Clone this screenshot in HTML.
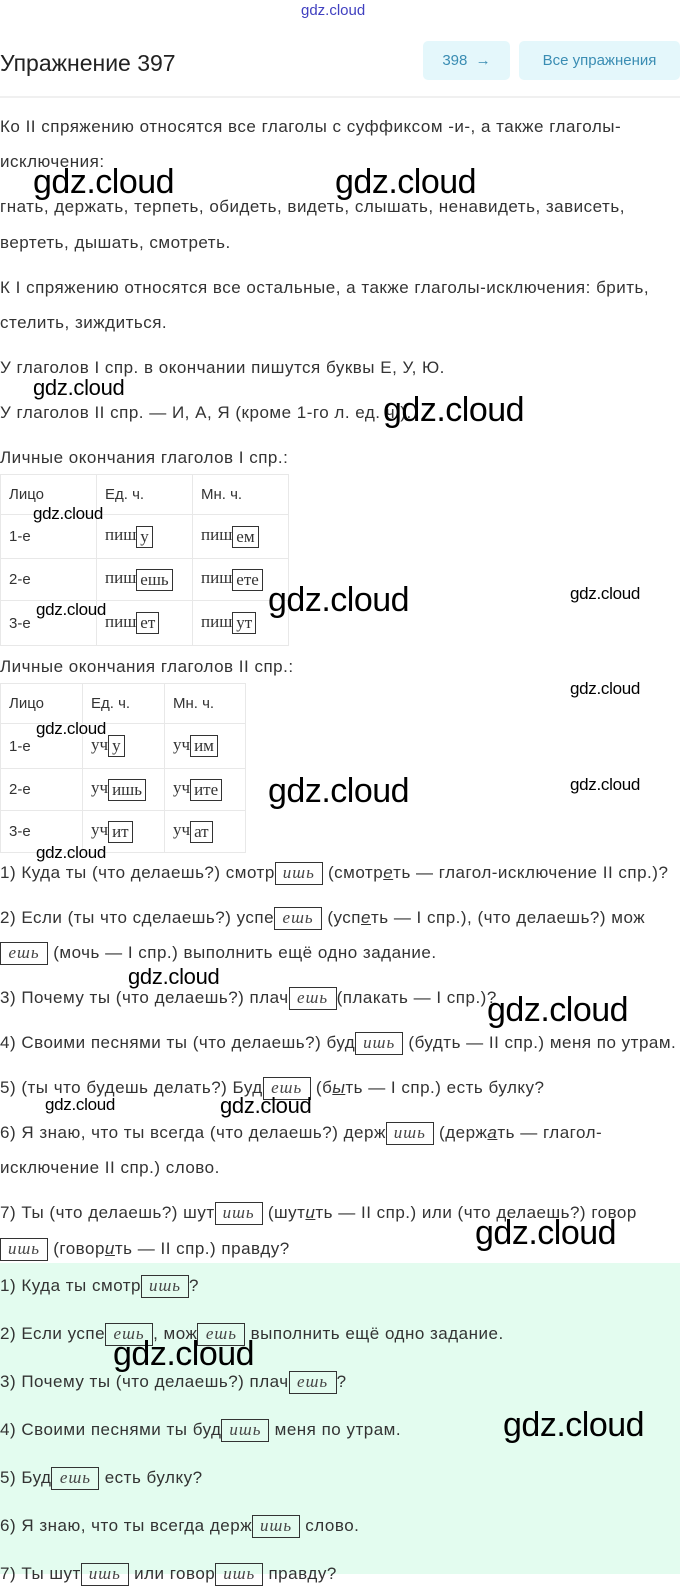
<!DOCTYPE html>
<html><head><meta charset="utf-8"><style>
*{margin:0;padding:0;box-sizing:border-box}
body{width:680px;height:1574px;position:relative;background:#fff;overflow:hidden;font-family:"Liberation Sans",sans-serif;color:#333;font-size:17px}
.l{position:absolute;left:0;white-space:nowrap;line-height:24px;height:24px;letter-spacing:0.5px;margin-top:2px}
.b{display:inline-block;border:1px solid #333;font-family:"Liberation Serif",serif;font-style:italic;font-size:17px;line-height:20px;height:23px;min-width:48px;text-align:center;padding:0 4px;vertical-align:middle;color:#444;letter-spacing:1px}
.t{display:inline-block;border:1px solid #333;font-family:"Liberation Serif",serif;font-size:17px;line-height:19px;height:22px;padding:0 3px;vertical-align:middle;color:#333}
.s{font-family:"Liberation Serif",serif;font-size:17px}
.w{position:absolute;color:#000;font-family:"Liberation Sans",sans-serif;white-space:nowrap;line-height:1}
.W{font-size:34px;letter-spacing:-0.5px}
.m{font-size:17px;letter-spacing:-0.3px}
table{position:absolute;left:0;border-collapse:collapse;font-size:15px}
td{border:1px solid #e8e8e8;padding:0 0 0 8px;vertical-align:middle}
.green{position:absolute;left:0;top:1263px;width:680px;height:311px;background:#e3fcef}
u{text-decoration:underline}
</style></head><body>
<div class="w" style="left:301px;top:3px;font-size:15px;color:#4040c0">gdz.cloud</div>
<div class="l" style="top:47px;font-size:23px;color:#222;height:28px;line-height:28px;letter-spacing:0">Упражнение 397</div>
<div style="position:absolute;left:423px;top:41px;width:87px;height:39px;background:#e4f7fb;border-radius:5px;color:#3a8db3;font-size:15px;line-height:39px;text-align:center">398 &nbsp;→</div>
<div style="position:absolute;left:519px;top:41px;width:161px;height:39px;background:#e4f7fb;border-radius:5px;color:#3a8db3;font-size:15px;line-height:39px;text-align:center">Все упражнения</div>
<div style="position:absolute;left:0;top:96px;width:680px;height:2px;background:#f0f0f0"></div>

<div class="l" style="top:113px">Ко II спряжению относятся все глаголы с суффиксом -и-, а также глаголы-</div>
<div class="l" style="top:148px">исключения:</div>
<div class="l" style="top:193px">гнать, держать, терпеть, обидеть, видеть, слышать, ненавидеть, зависеть,</div>
<div class="l" style="top:229px">вертеть, дышать, смотреть.</div>
<div class="l" style="top:274px">К I спряжению относятся все остальные, а также глаголы-исключения: брить,</div>
<div class="l" style="top:309px">стелить, зиждиться.</div>
<div class="l" style="top:354px">У глаголов I спр. в окончании пишутся буквы Е, У, Ю.</div>
<div class="l" style="top:399px">У глаголов II спр. — И, А, Я (кроме 1-го л. ед. ч.).</div>
<div class="l" style="top:444px">Личные окончания глаголов I спр.:</div>

<table style="top:474px">
<tr style="height:40px"><td style="width:96px">Лицо</td><td style="width:96px">Ед. ч.</td><td style="width:96px">Мн. ч.</td></tr>
<tr style="height:44px"><td>1-е</td><td><span class="s">пиш</span><span class="t">у</span></td><td><span class="s">пиш</span><span class="t">ем</span></td></tr>
<tr style="height:42px"><td>2-е</td><td><span class="s">пиш</span><span class="t">ешь</span></td><td><span class="s">пиш</span><span class="t">ете</span></td></tr>
<tr style="height:45px"><td>3-е</td><td><span class="s">пиш</span><span class="t">ет</span></td><td><span class="s">пиш</span><span class="t">ут</span></td></tr>
</table>
<div class="l" style="top:653px">Личные окончания глаголов II спр.:</div>
<table style="top:683px">
<tr style="height:40px"><td style="width:82px">Лицо</td><td style="width:82px">Ед. ч.</td><td style="width:81px">Мн. ч.</td></tr>
<tr style="height:45px"><td>1-е</td><td><span class="s">уч</span><span class="t">у</span></td><td><span class="s">уч</span><span class="t">им</span></td></tr>
<tr style="height:42px"><td>2-е</td><td><span class="s">уч</span><span class="t">ишь</span></td><td><span class="s">уч</span><span class="t">ите</span></td></tr>
<tr style="height:42px"><td>3-е</td><td><span class="s">уч</span><span class="t">ит</span></td><td><span class="s">уч</span><span class="t">ат</span></td></tr>
</table>

<div class="l" style="top:859px">1) Куда ты (что делаешь?) смотр<span class="b">ишь</span> (смотр<u><i>е</i></u>ть — глагол-исключение II спр.)?</div>
<div class="l" style="top:904px">2) Если (ты что сделаешь?) успе<span class="b">ешь</span> (усп<u><i>е</i></u>ть — I спр.), (что делаешь?) мож</div>
<div class="l" style="top:939px"><span class="b">ешь</span> (мочь — I спр.) выполнить ещё одно задание.</div>
<div class="l" style="top:984px">3) Почему ты (что делаешь?) плач<span class="b">ешь</span>(плакать — I спр.)?</div>
<div class="l" style="top:1029px">4) Своими песнями ты (что делаешь?) буд<span class="b">ишь</span> (будть — II спр.) меня по утрам.</div>
<div class="l" style="top:1074px">5) (ты что будешь делать?) Буд<span class="b">ешь</span> (б<u><i>ы</i></u>ть — I спр.) есть булку?</div>
<div class="l" style="top:1119px">6) Я знаю, что ты всегда (что делаешь?) держ<span class="b">ишь</span> (держ<u><i>а</i></u>ть — глагол-</div>
<div class="l" style="top:1154px">исключение II спр.) слово.</div>
<div class="l" style="top:1199px">7) Ты (что делаешь?) шут<span class="b">ишь</span> (шут<u><i>и</i></u>ть — II спр.) или (что делаешь?) говор</div>
<div class="l" style="top:1235px"><span class="b">ишь</span> (говор<u><i>и</i></u>ть — II спр.) правду?</div>

<div class="green"></div>
<div class="l" style="top:1272px">1) Куда ты смотр<span class="b">ишь</span>?</div>
<div class="l" style="top:1320px">2) Если успе<span class="b">ешь</span>, мож<span class="b">ешь</span> выполнить ещё одно задание.</div>
<div class="l" style="top:1368px">3) Почему ты (что делаешь?) плач<span class="b">ешь</span>?</div>
<div class="l" style="top:1416px">4) Своими песнями ты буд<span class="b">ишь</span> меня по утрам.</div>
<div class="l" style="top:1464px">5) Буд<span class="b">ешь</span> есть булку?</div>
<div class="l" style="top:1512px">6) Я знаю, что ты всегда держ<span class="b">ишь</span> слово.</div>
<div class="l" style="top:1560px">7) Ты шут<span class="b">ишь</span> или говор<span class="b">ишь</span> правду?</div>

<div class="w W" style="left:33px;top:165px">gdz.cloud</div>
<div class="w W" style="left:335px;top:165px">gdz.cloud</div>
<div class="w W" style="left:383px;top:393px">gdz.cloud</div>
<div class="w W" style="left:268px;top:583px">gdz.cloud</div>
<div class="w W" style="left:268px;top:774px">gdz.cloud</div>
<div class="w W" style="left:487px;top:993px">gdz.cloud</div>
<div class="w W" style="left:475px;top:1216px">gdz.cloud</div>
<div class="w W" style="left:113px;top:1337px">gdz.cloud</div>
<div class="w W" style="left:503px;top:1408px">gdz.cloud</div>
<div class="w m" style="left:33px;top:377px;font-size:22px">gdz.cloud</div>
<div class="w m" style="left:33px;top:505px">gdz.cloud</div>
<div class="w m" style="left:36px;top:601px">gdz.cloud</div>
<div class="w m" style="left:570px;top:585px">gdz.cloud</div>
<div class="w m" style="left:570px;top:680px">gdz.cloud</div>
<div class="w m" style="left:570px;top:776px">gdz.cloud</div>
<div class="w m" style="left:36px;top:720px">gdz.cloud</div>
<div class="w m" style="left:36px;top:844px">gdz.cloud</div>
<div class="w m" style="left:128px;top:966px;font-size:22px">gdz.cloud</div>
<div class="w m" style="left:45px;top:1096px">gdz.cloud</div>
<div class="w m" style="left:220px;top:1095px;font-size:22px">gdz.cloud</div>
</body></html>
